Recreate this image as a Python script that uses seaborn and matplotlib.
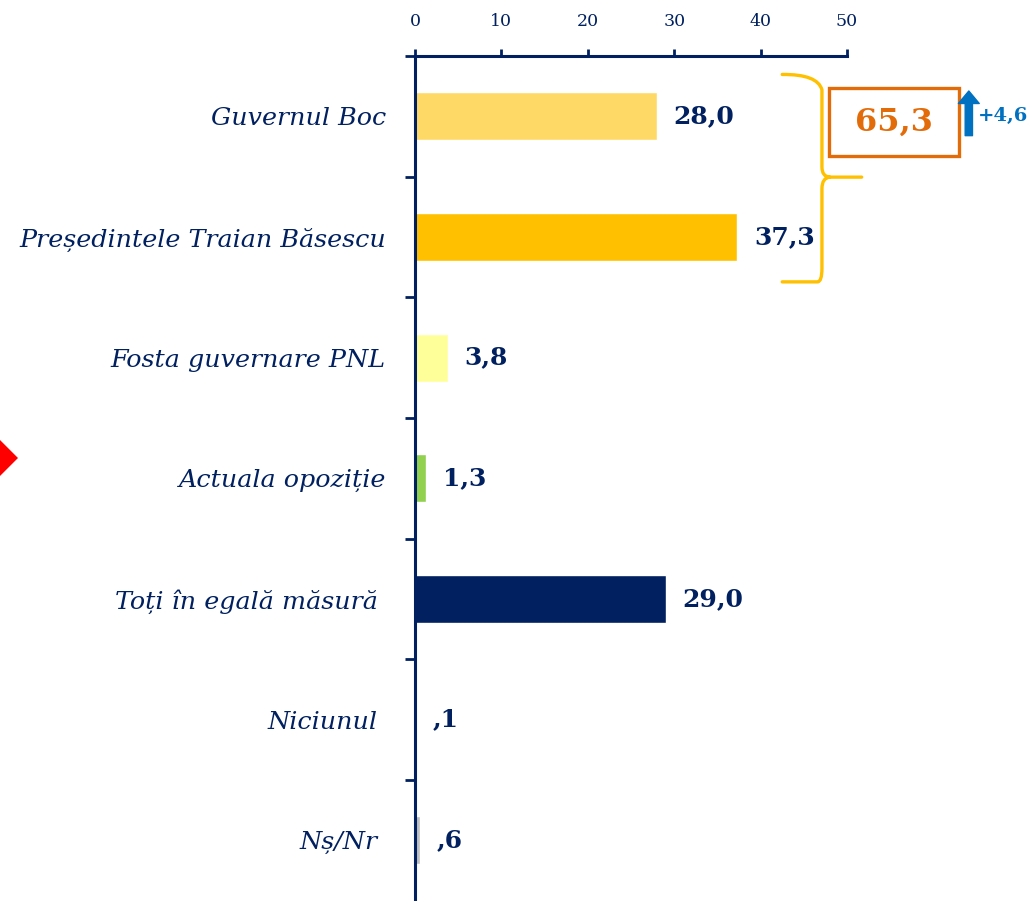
import matplotlib
matplotlib.use("Agg")
import matplotlib.pyplot as plt
from matplotlib.path import Path
from matplotlib.patches import PathPatch, Rectangle, Polygon
from matplotlib.ticker import FixedLocator
import seaborn as sns
import pandas as pd

categories = ["Guvernul Boc", "Președintele Traian Băsescu", "Fosta guvernare PNL",
              "Actuala opoziție", "Toți în egală măsură ", "Niciunul ", "Nș/Nr "]
values = [28.0, 37.3, 3.8, 1.3, 29.0, 0.1, 0.6]
colors = ["#FFD966", "#FFC000", "#FFFF99", "#92D050", "#002060", "#002060", "#BFBFBF"]
x_ticks = [0, 10, 20, 30, 40, 50]
total_label = "65,3"
change_label = "+4,6"

NAVY = "#002060"
ORANGE = "#E36C0A"
BLUE = "#0070C0"
GOLD = "#FFC000"

sns.set_style("white")
plt.rcParams["font.family"] = ["DejaVu Serif"]

df = pd.DataFrame({"cat": categories, "val": values})

fig = plt.figure(figsize=(10.34, 9.01), dpi=100)
ax = fig.add_axes([415 / 1034, -2 / 901, 432 / 1034, (845 + 2) / 901])

sns.barplot(data=df, y="cat", x="val", hue="cat", palette=colors, legend=False,
            orient="h", width=0.4, saturation=1, ax=ax, order=categories)

ax.set_xlim(0, 50)
ax.set_ylim(len(categories) - 0.5 + 0.02, -0.5)
ax.set_xlabel("")
ax.set_ylabel("")

# x axis on top
ax.xaxis.tick_top()
ax.set_xticks(x_ticks)
ax.set_xticklabels([str(t) for t in x_ticks], color=NAVY, fontsize=12.5)
ax.tick_params(axis="x", which="major", direction="out", length=5, width=2,
               color=NAVY, pad=14, top=True, bottom=False)

# y axis: labels at centers, ticks at boundaries
ax.set_yticks(range(len(categories)))
ax.set_yticklabels(categories, fontsize=18.3, style="italic", color=NAVY)
ax.tick_params(axis="y", which="major", length=0, pad=21)
ax.yaxis.set_minor_locator(FixedLocator([i - 0.5 for i in range(len(categories))]))
ax.tick_params(axis="y", which="minor", direction="out", length=7.5, width=2,
               color=NAVY, left=True)

for s in ["right", "bottom"]:
    ax.spines[s].set_visible(False)
for s in ["top", "left"]:
    ax.spines[s].set_color(NAVY)
    ax.spines[s].set_linewidth(2.2)
ax.grid(False)


def fmt(v):
    s = f"{v:.1f}".replace(".", ",")
    if s.startswith("0"):
        s = s[1:]
    return s


for i, v in enumerate(values):
    ax.annotate(fmt(v), xy=(v, i), xytext=(12, 0), textcoords="offset points",
                ha="left", va="center", fontsize=18, fontweight="bold", color=NAVY)

# curly brace grouping first two bars
verts = [(42.5, -0.347), (46.6, -0.35), (47.1, -0.22),
         (47.1, 0.42), (47.1, 0.50), (48.0, 0.504), (51.7, 0.504),
         (48.0, 0.504), (47.1, 0.51), (47.1, 0.60),
         (47.1, 1.26), (47.1, 1.37), (46.6, 1.372), (42.5, 1.372)]
codes = [Path.MOVETO, Path.CURVE3, Path.CURVE3,
         Path.LINETO, Path.CURVE3, Path.CURVE3, Path.LINETO,
         Path.MOVETO, Path.CURVE3, Path.CURVE3,
         Path.LINETO, Path.CURVE3, Path.CURVE3, Path.LINETO]
ax.add_patch(PathPatch(Path(verts, codes), fill=False, edgecolor=GOLD, lw=2.4,
                       clip_on=False, capstyle="round", joinstyle="round"))

# total box
ax.add_patch(Rectangle((47.9, -0.231), 15.07, 0.562, fill=False, edgecolor=ORANGE,
                       lw=2.4, clip_on=False))
ax.text(55.4, 0.05, total_label, ha="center", va="center", fontsize=23,
        fontweight="bold", color=ORANGE, clip_on=False)

# blue up arrow and change
ax.annotate("", xy=(64.1, -0.21), xytext=(64.1, 0.16),
            arrowprops=dict(arrowstyle="simple,head_length=0.6,head_width=1.0,tail_width=0.35",
                            mutation_scale=15, color=BLUE, shrinkA=0, shrinkB=0),
            annotation_clip=False)
ax.text(65.1, -0.005, change_label, ha="left", va="center", fontsize=14,
        fontweight="bold", color=BLUE, clip_on=False)

# red diamond marker on left edge
cx, cy, r = -2 / 1034, 1 - 458 / 901, 20
fig.patches.append(Polygon([(cx - r / 1034, cy), (cx, cy + r / 901), (cx + r / 1034, cy),
                            (cx, cy - r / 901)], closed=True, facecolor="#FF0000",
                           edgecolor="none", transform=fig.transFigure, figure=fig))

fig.savefig("out.png", dpi=100)
